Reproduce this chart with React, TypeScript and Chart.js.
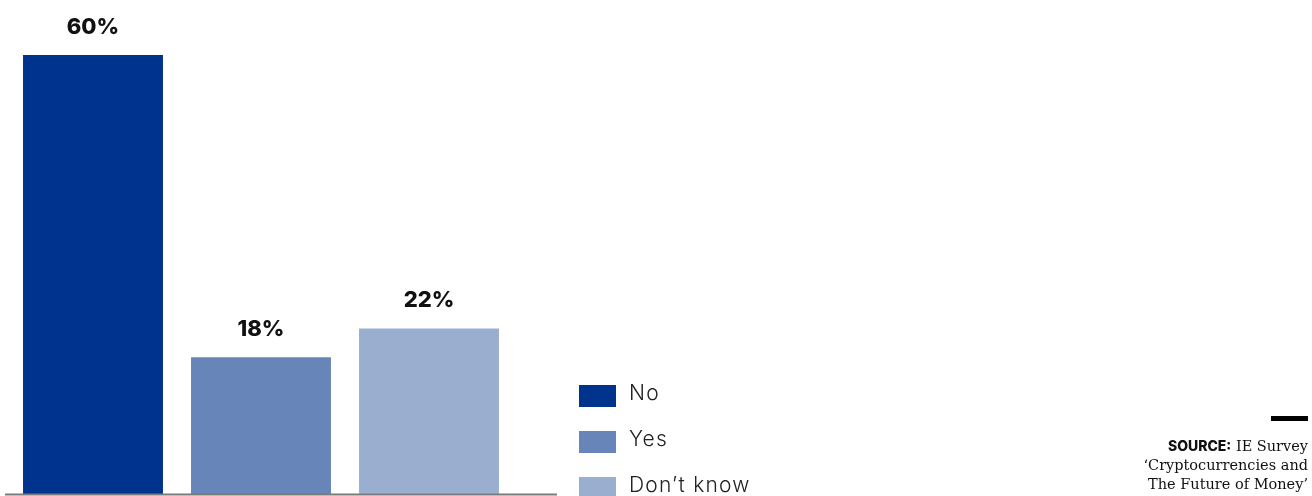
import React, { useEffect, useRef } from "react";
import { Chart, registerables } from "chart.js";

Chart.register(...registerables);

const categories = ["No", "Yes", "Don\u2019t know"];
const values = [60, 18, 22];
const valueLabels = ["60%", "18%", "22%"];
const colors = ["#00338d", "#6785b9", "#9aafd0"];
const sourceLines = ["\u2018Cryptocurrencies and", "The Future of Money\u2019"];

const labelPlugin = {
  id: "valueLabels",
  afterDatasetsDraw(chart: any) {
    const ctx = chart.ctx;
    const meta = chart.getDatasetMeta(0);
    const area = chart.chartArea;
    ctx.save();
    ctx.strokeStyle = "#7b7b7b";
    ctx.lineWidth = 2;
    ctx.beginPath();
    ctx.moveTo(area.left - 4, area.bottom + 0.5);
    ctx.lineTo(area.right + 44, area.bottom + 0.5);
    ctx.stroke();
    ctx.fillStyle = "#111";
    ctx.font = "800 22px Inter";
    ctx.textAlign = "center";
    ctx.textBaseline = "alphabetic";
    meta.data.forEach((bar: any, i: number) => {
      ctx.fillText(valueLabels[i], bar.x, bar.y - 21);
    });
    ctx.restore();
  },
};

export default function App() {
  const ref = useRef<HTMLCanvasElement>(null);
  useEffect(() => {
    if (!ref.current) return;
    const chart = new Chart(ref.current, {
      type: "bar",
      data: {
        labels: categories,
        datasets: [
          {
            data: values,
            backgroundColor: colors,
            base: -1,
            barPercentage: 0.833,
            categoryPercentage: 1,
          } as any,
        ],
      },
      options: {
        animation: false,
        responsive: false,
        maintainAspectRatio: false,
        layout: { padding: { left: 9, right: 799, top: 55, bottom: 2 } },
        plugins: { legend: { display: false }, tooltip: { enabled: false } },
        scales: {
          x: { display: false },
          y: { display: false, min: -1, max: 60 },
        },
      },
      plugins: [labelPlugin],
    });
    return () => chart.destroy();
  }, []);

  const legendTop = [385, 431, 477];
  return (
    <div style={{ position: "absolute", left: 0, top: 0, width: 1312, height: 496, background: "#fff", overflow: "hidden" }}>
      <canvas ref={ref} width={1312} height={496} style={{ position: "absolute", left: 0, top: 0 }} />
      {categories.map((c, i) => (
        <div key={c} style={{ position: "absolute", left: 579, top: legendTop[i], height: 22, display: "flex", alignItems: "center" }}>
          <div style={{ width: 37, height: 22, background: colors[i] }} />
          <span style={{ marginLeft: 13, marginTop: -6, fontFamily: "Inter", fontWeight: 300, fontSize: 21, letterSpacing: 1.2, color: "#222", lineHeight: "22px" }}>{c}</span>
        </div>
      ))}
      <div style={{ position: "absolute", left: 1271, top: 416, width: 37, height: 5, background: "#000" }} />
      <div style={{ position: "absolute", right: 4, top: 436, textAlign: "right", fontFamily: "'DejaVu Serif'", fontSize: 14.5, lineHeight: "19px", color: "#111", whiteSpace: "nowrap" }}>
        <div>
          <span style={{ fontFamily: "Inter", fontWeight: 800, fontSize: 14 }}>SOURCE:</span> IE Survey
        </div>
        <div>{sourceLines[0]}</div>
        <div>{sourceLines[1]}</div>
      </div>
    </div>
  );
}
